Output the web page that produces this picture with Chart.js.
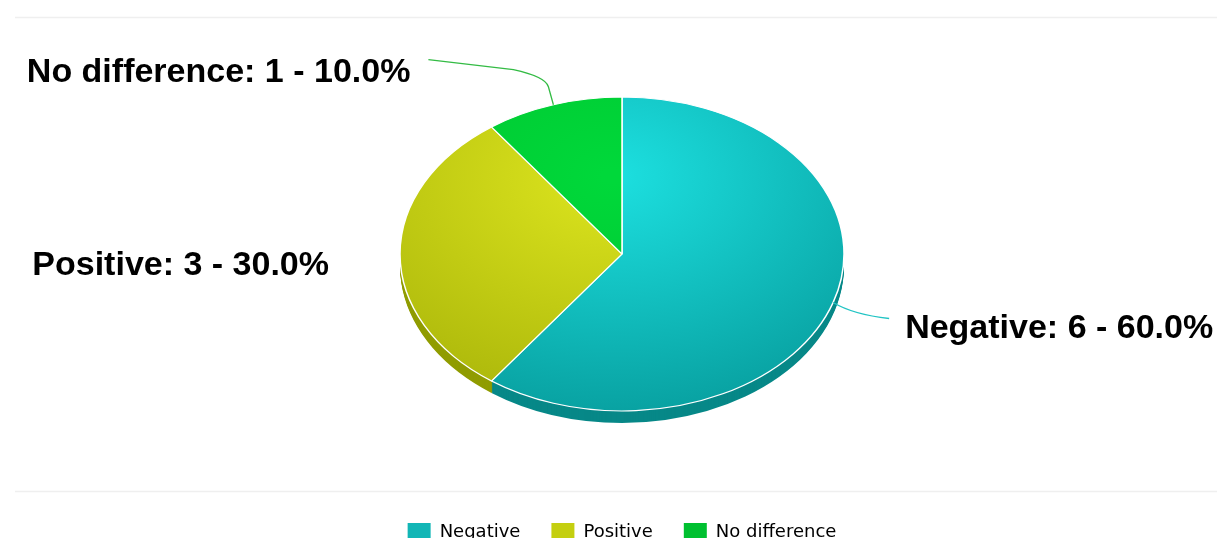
<!DOCTYPE html>
<html>
<head>
<meta charset="utf-8">
<script src="https://cdn.jsdelivr.net/npm/chart.js@4.4.1/dist/chart.umd.min.js"></script>
<style>
    html, body { margin: 0; padding: 0; background: #fff; }
    .wrap { width: 1217px; height: 538px; overflow: hidden; position: relative; }
    canvas { display: block; }
</style>
</head>
<body>
<div class="wrap">
    <canvas id="feedbackChart" width="1217" height="551"></canvas>
</div>
<script>
// Feedback counts
const categories = ['Negative', 'Positive', 'No difference'];
const counts = [6, 3, 1];

// Face colours: light / dark for the gradient, plus the side wall
const lightColors = ['#1cdede', '#dce41e', '#00d83a'];
const darkColors = ['#069a9a', '#a6b208', '#00be2c'];
const sideColors = ['#078888', '#909c00', '#00a020'];
const legendColors = ['#12b6b6', '#c4cf10', '#00c030'];
const connectorColors = ['#22c4c4', null, '#33bb44'];

// Where each label sits relative to its slice edge
const labelOffsets = [
    { dx: 72, dy: 26, align: 'left', line: true },
    { dx: -71, dy: 12, align: 'right', line: false },
    { dx: -143, dy: -32, align: 'right', line: true }
];

const centerY = 254;   // screen y of the pie centre
const tilt = 0.707;    // vertical squash of the pie
const depth = 12;      // thickness of the pie wall

const total = counts.reduce((a, b) => a + b, 0);

function sliceGradient(ctx, arc, i) {
    const gx = arc.x - 10;
    const gy = arc.y - arc.outerRadius * 0.5;
    const g = ctx.createRadialGradient(gx, gy, 10, gx, gy, arc.outerRadius * 1.7);
    g.addColorStop(0, lightColors[i]);
    g.addColorStop(1, darkColors[i]);
    return g;
}

// Squashes the pie into an ellipse and gives it a wall
const tiltPlugin = {
    id: 'tiltPie',
    beforeDatasetsDraw(chart) {
        const ctx = chart.ctx;
        const arcs = chart.getDatasetMeta(0).data;
        const cy = arcs[0].y;

        // side wall, stacked copies going down
        for (let d = depth; d >= 1; d--) {
            arcs.forEach((arc, i) => {
                ctx.save();
                ctx.translate(0, centerY + d);
                ctx.scale(1, tilt);
                ctx.translate(0, -cy);
                ctx.beginPath();
                ctx.moveTo(arc.x, arc.y);
                ctx.arc(arc.x, arc.y, arc.outerRadius, arc.startAngle, arc.endAngle);
                ctx.closePath();
                ctx.fillStyle = sideColors[i];
                ctx.fill();
                ctx.restore();
            });
        }

        // shaded top faces
        arcs.forEach((arc, i) => {
            arc.options.backgroundColor = sliceGradient(ctx, arc, i);
        });

        ctx.save();
        ctx.translate(0, centerY);
        ctx.scale(1, tilt);
        ctx.translate(0, -cy);
    },
    afterDatasetsDraw(chart) {
        const ctx = chart.ctx;
        ctx.restore();

        const arcs = chart.getDatasetMeta(0).data;
        ctx.save();
        ctx.font = 'bold 34px "Liberation Sans", Arial, sans-serif';
        ctx.textBaseline = 'middle';
        ctx.fillStyle = '#000';
        arcs.forEach((arc, i) => {
            const mid = (arc.startAngle + arc.endAngle) / 2;
            const ex = arc.x + arc.outerRadius * Math.cos(mid);
            const ey = centerY + tilt * arc.outerRadius * Math.sin(mid);
            const off = labelOffsets[i];
            const tx = ex + off.dx;
            const ty = ey + off.dy;

            if (off.line) {
                ctx.beginPath();
                ctx.strokeStyle = connectorColors[i];
                ctx.lineWidth = 1.3;
                ctx.moveTo(ex, ey);
                if (off.align === 'left') {
                    ctx.quadraticCurveTo(ex + 20, ey + 12, tx - 16, ty - 10);
                } else {
                    ctx.lineTo(ex - 5, ey - 18);
                    ctx.quadraticCurveTo(ex - 8, ey - 28, ex - 40, ey - 35);
                    ctx.lineTo(tx + 18, ty - 13);
                }
                ctx.stroke();
            }

            const pct = (counts[i] / total * 100).toFixed(1);
            ctx.textAlign = off.align;
            ctx.fillText(categories[i] + ': ' + counts[i] + ' - ' + pct + '%', tx, ty);
        });
        ctx.restore();
    },
    beforeDraw(chart) {
        // faint frame lines above the plot and above the legend
        const ctx = chart.ctx;
        ctx.save();
        ctx.strokeStyle = '#efefef';
        ctx.lineWidth = 1.5;
        ctx.beginPath();
        ctx.moveTo(15, 17.5);
        ctx.lineTo(chart.width, 17.5);
        ctx.moveTo(15, 491.5);
        ctx.lineTo(chart.width, 491.5);
        ctx.stroke();
        ctx.restore();
    }
};

const feedbackChart = new Chart(document.getElementById('feedbackChart'), {
    type: 'pie',
    data: {
        labels: categories,
        datasets: [{
            data: counts,
            backgroundColor: legendColors,
            borderColor: '#ffffff',
            borderWidth: 1.5,
            radius: 222
        }]
    },
    options: {
        responsive: false,
        animation: false,
        events: [],
        layout: {
            padding: { left: 27, top: 10 }
        },
        plugins: {
            tooltip: { enabled: false },
            legend: {
                position: 'bottom',
                labels: {
                    boxWidth: 23,
                    boxHeight: 18,
                    padding: 31,
                    color: '#3a3a3a',
                    font: { family: '"DejaVu Sans", sans-serif', size: 18 },
                    generateLabels(chart) {
                        return categories.map((name, i) => ({
                            text: name,
                            fillStyle: legendColors[i],
                            strokeStyle: legendColors[i],
                            lineWidth: 0,
                            index: i
                        }));
                    }
                }
            }
        }
    },
    plugins: [tiltPlugin]
});
</script>
</body>
</html>
